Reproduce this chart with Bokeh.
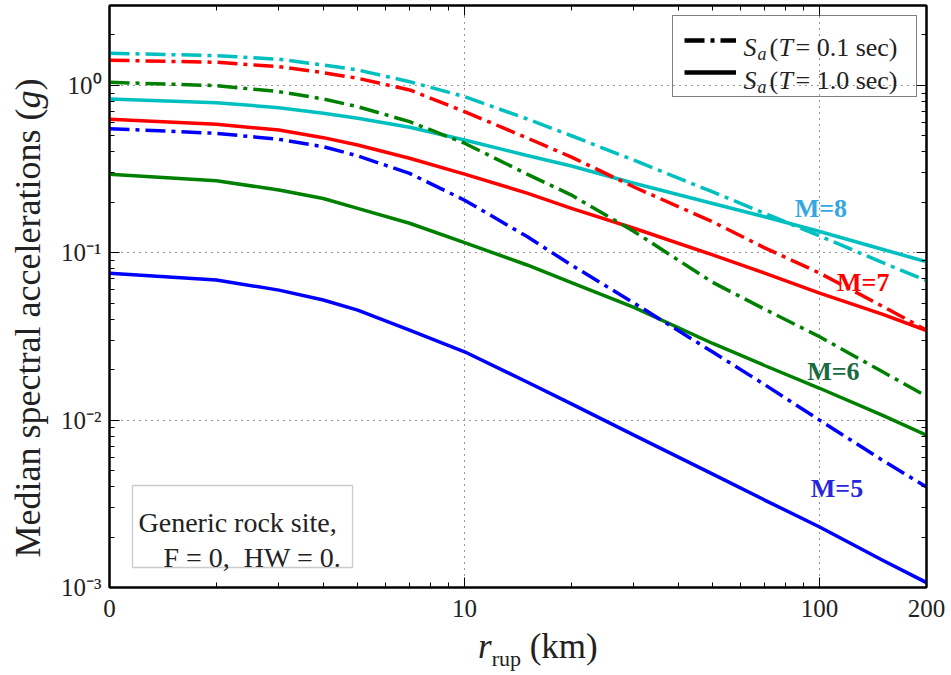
import math
from bokeh.plotting import figure
from bokeh.layouts import row, column
from bokeh.models import (Range1d, FixedTicker, CustomJSTickFormatter, LogAxis,
                          Label, Legend, LegendItem, BoxAnnotation, Div)
from bokeh.core.properties import value
from bokeh.embed import file_html
from bokeh.resources import INLINE

# rupture distance (km)
r_km = [1, 2, 3, 4, 5, 7, 10, 15, 20, 30, 50, 70, 100, 150, 200]

# median spectral acceleration (g), T = 0.1 s
sa01_m8 = [1.556, 1.505, 1.432, 1.324, 1.236, 1.052, 0.856, 0.630, 0.500, 0.357, 0.231, 0.172, 0.126, 0.0875, 0.0682]
sa01_m7 = [1.413, 1.374, 1.293, 1.191, 1.102, 0.939, 0.697, 0.485, 0.373, 0.247, 0.153, 0.107, 0.0756, 0.0480, 0.0345]
sa01_m6 = [1.043, 0.996, 0.917, 0.829, 0.746, 0.607, 0.451, 0.295, 0.221, 0.134, 0.0665, 0.0460, 0.0315, 0.0195, 0.0139]
sa01_m5 = [0.551, 0.517, 0.476, 0.430, 0.379, 0.298, 0.206, 0.125, 0.0844, 0.0501, 0.0255, 0.0163, 0.0100, 0.00577, 0.00398]

# median spectral acceleration (g), T = 1.0 s
sa10_m8 = [0.829, 0.788, 0.736, 0.681, 0.636, 0.562, 0.472, 0.381, 0.330, 0.260, 0.197, 0.164, 0.134, 0.105, 0.0883]
sa10_m7 = [0.627, 0.585, 0.541, 0.487, 0.440, 0.367, 0.295, 0.227, 0.184, 0.140, 0.0970, 0.0756, 0.0574, 0.0430, 0.0343]
sa10_m6 = [0.294, 0.269, 0.237, 0.211, 0.184, 0.150, 0.115, 0.0845, 0.0662, 0.0472, 0.0287, 0.0212, 0.0155, 0.0107, 0.00813]
sa10_m5 = [0.0753, 0.0687, 0.0598, 0.0522, 0.0454, 0.0345, 0.0256, 0.0169, 0.0125, 0.00813, 0.00476, 0.00333, 0.00230, 0.00146, 0.00107]

magnitudes = ["M=8", "M=7", "M=6", "M=5"]
line_colors = ["#00BFBF", "#FF0000", "#008000", "#0000FF"]
label_colors = ["#35A8E0", "#FF0000", "#176B3E", "#2626DC"]
label_r = [100.8, 132.7, 109.3, 111.9]
label_sa = [0.185, 0.0668, 0.0194, 0.00392]

x_tick_vals = [1, 10, 100, 200]
x_tick_labels = ["0", "10", "100", "200"]
x_minor_vals = [2, 3, 4, 5, 6, 7, 8, 9, 20, 30, 40, 50, 60, 70, 80, 90]
y_tick_vals = [0.001, 0.01, 0.1, 1.0]
y_tick_labels = ["10\u207b\u00b3", "10\u207b\u00b2", "10\u207b\u00b9", "10\u2070"]
y_minor_vals = [m * 10.0 ** e for e in (-3, -2, -1, 0) for m in range(2, 10)]

SERIF = "Liberation Serif"
DASHDOT = "20 6 4 6"
YLABEL_W = 55
PLOT_H = 627

p = figure(width=951 - YLABEL_W, height=PLOT_H, x_axis_type="log", y_axis_type="log",
           x_range=Range1d(1, 200), y_range=Range1d(1e-3, 3.0),
           output_backend="svg", toolbar_location=None,
           min_border_left=109 - YLABEL_W, min_border_right=25,
           min_border_top=5, min_border_bottom=40)
p.background_fill_color = "white"
p.border_fill_color = "white"
p.outline_line_color = "black"
p.outline_line_width = 2

fmt_code = """
for (let i = 0; i < vals.length; i++) {
  if (Math.abs(Math.log10(tick) - Math.log10(vals[i])) < 1e-6) return labels[i];
}
return "";
"""
x_ticker = FixedTicker(ticks=x_tick_vals, minor_ticks=x_minor_vals)
y_ticker = FixedTicker(ticks=y_tick_vals, minor_ticks=y_minor_vals)
x_fmt = CustomJSTickFormatter(args=dict(vals=x_tick_vals, labels=x_tick_labels), code=fmt_code)
y_fmt = CustomJSTickFormatter(args=dict(vals=y_tick_vals, labels=y_tick_labels), code=fmt_code)


def style_axis(ax, show_labels=True):
    ax.major_tick_in = 10
    ax.major_tick_out = 0
    ax.minor_tick_in = 5
    ax.minor_tick_out = 0
    ax.major_tick_line_color = "black"
    ax.minor_tick_line_color = "black"
    ax.major_tick_line_width = 1
    ax.axis_line_color = "black"
    ax.axis_line_width = 2
    ax.major_label_text_font = SERIF
    ax.major_label_text_font_size = "25px" if show_labels else "0px"
    ax.major_label_text_color = "#222222"
    if not show_labels:
        ax.major_label_standoff = 0


p.xaxis.ticker = x_ticker
p.xaxis.formatter = x_fmt
p.yaxis.ticker = y_ticker
p.yaxis.formatter = y_fmt
for ax in p.xaxis + p.yaxis:
    style_axis(ax)
p.xaxis.major_label_standoff = 12
p.yaxis.major_label_standoff = 8

top_axis = LogAxis(ticker=x_ticker, formatter=CustomJSTickFormatter(code="return '';"))
right_axis = LogAxis(ticker=y_ticker, formatter=CustomJSTickFormatter(code="return '';"))
style_axis(top_axis, False)
style_axis(right_axis, False)
p.add_layout(top_axis, "above")
p.add_layout(right_axis, "right")

p.xgrid.ticker = FixedTicker(ticks=[10, 100])
p.ygrid.ticker = FixedTicker(ticks=[0.01, 0.1, 1.0])
for g in (p.xgrid, p.ygrid):
    g.grid_line_color = "#333333"
    g.grid_line_dash = "1 5"
    g.grid_line_width = 1

# curves: solid = T 1.0 s, dash-dot = T 0.1 s
series_01 = [sa01_m8, sa01_m7, sa01_m6, sa01_m5]
series_10 = [sa10_m8, sa10_m7, sa10_m6, sa10_m5]
for ys, c in zip(series_10, line_colors):
    p.line(r_km, ys, line_color=c, line_width=3.5)
for ys, c in zip(series_01, line_colors):
    p.line(r_km, ys, line_color=c, line_width=3.5, line_dash=DASHDOT)

# magnitude labels
p.text(x=label_r, y=label_sa, text=magnitudes, text_color=label_colors,
       text_font=value(SERIF), text_font_style="bold", text_font_size="26px",
       text_align="center", text_baseline="middle")

# legend: hidden black proxies supply the sample line styles
leg_dd = p.line(r_km, sa01_m8, line_color="black", line_width=4.5, line_dash=DASHDOT, visible=False)
leg_solid = p.line(r_km, sa10_m8, line_color="black", line_width=4.5, visible=False)
legend = Legend(items=[LegendItem(label=" ", renderers=[leg_dd]),
                       LegendItem(label=" ", renderers=[leg_solid])],
                location=(563, 490), padding=11, spacing=6,
                glyph_width=52, glyph_height=26, label_width=162, label_height=26,
                label_standoff=7, label_text_font_size="10px",
                border_line_color="black", border_line_width=1,
                background_fill_alpha=0.0)
p.add_layout(legend)


def add_label(text, sx, sy, size, style="normal", color="#222222"):
    p.add_layout(Label(x=sx, y=sy, x_units="screen", y_units="screen", text=text,
                       text_font=SERIF, text_font_size=f"{size}px", text_font_style=style,
                       text_color=color, text_align="left", text_baseline="alphabetic",
                       level="overlay"))


# legend texts: S_a(T= ... sec)
for base, period in ((540, "0.1"), (507, "1.0")):
    add_label("S", 634, base, 26, "italic")
    add_label("a", 648, base - 6, 18, "italic")
    add_label("(", 660, base, 26)
    add_label("T", 669, base, 26, "italic")
    add_label(f"= {period} sec)", 686, base, 26)

# site description box
p.add_layout(BoxAnnotation(left=23, right=243, bottom=20, top=102,
                           left_units="screen", right_units="screen",
                           bottom_units="screen", top_units="screen",
                           fill_color="white", fill_alpha=1.0,
                           line_color="#555555", line_width=1.3))
add_label("Generic rock site,", 29, 65, 28)
add_label("F = 0,\u00a0 HW = 0.", 54, 30, 28)

# axis titles as HTML so that italics and the subscript can be mixed
font_css = f"font-family:'{SERIF}';line-height:40px;color:#222222;white-space:nowrap;"
y_title = Div(width=YLABEL_W, height=PLOT_H, margin=(0, 0, 0, 0), text=(
    f'<div style="position:relative;width:{YLABEL_W}px;height:{PLOT_H}px;">'
    f'<div style="position:absolute;left:28px;top:318px;font-size:36px;'
    f'transform:translate(-50%,-50%) rotate(-90deg);{font_css}">'
    'Median spectral accelerations (<i>g</i>)</div></div>'))
x_title = Div(width=951, height=675 - PLOT_H, margin=(0, 0, 0, 0), text=(
    f'<div style="position:relative;width:951px;height:{675 - PLOT_H}px;">'
    f'<div style="position:absolute;left:478px;top:0px;font-size:35px;{font_css}">'
    '<i>r</i><span style="font-size:22px;position:relative;top:8px;">rup</span>'
    '&nbsp;(km)</div></div>'))

layout = column(row(y_title, p, spacing=0), x_title, spacing=0)
open("out.html", "w").write(file_html(layout, INLINE))
